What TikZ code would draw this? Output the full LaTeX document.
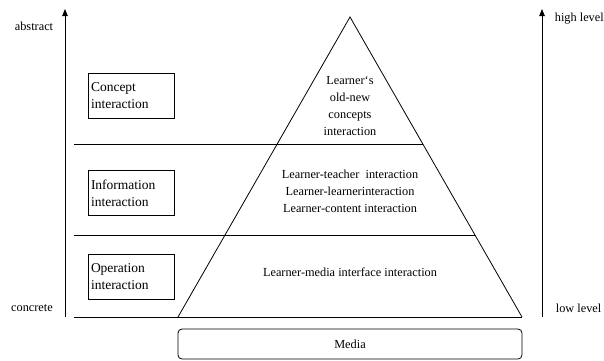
\documentclass[tikz,border=0pt]{standalone}
\usepackage{fontspec}
\setmainfont{Liberation Serif}
\usepackage{tikz}
\usetikzlibrary{arrows.meta}

\begin{document}
\begin{tikzpicture}[
  x=1pt, y=-1pt,
  font=\fontsize{12.3}{17}\selectfont,
  line width=0.8pt,
  lvl/.style={draw, minimum width=86pt, minimum height=45pt, text width=80pt,
              align=left, inner xsep=3pt, font=\fontsize{13.5}{17}\selectfont},
  txt/.style={align=center, inner sep=0pt},
  axis/.style={-{Triangle[length=7pt, width=5.5pt]}}
]
\useasboundingbox (0,0) rectangle (604,360);

% vertical scales
\coordinate (lbot) at (65,317);
\coordinate (ltop) at (65,9);
\coordinate (rbot) at (542,317);
\coordinate (rtop) at (542,9);
\draw[axis] (lbot) -- (ltop);
\draw[axis] (rbot) -- (rtop);
\node[txt] (abs)  at (34,26)  {abstract};
\node[txt] (conc) at (32,308) {concrete};
\node[txt, anchor=west] (high) at (554.5,19)  {high level};
\node[txt, anchor=west] (low)  at (555.5,308) {low level};

% pyramid
\coordinate (apex) at (350,17);
\coordinate (bl)   at (178,317);
\coordinate (br)   at (522,317);
\draw (bl) -- (apex) -- (br);
\coordinate (h1l) at (74,144);
\coordinate (h2l) at (74,235);
\coordinate (h3l) at (74,317);
\draw (h1l) -- (h1l -| 423,0);
\draw (h2l) -- (h2l -| 475,0);
\draw (h3l) -- (br);

% levels
\node[lvl] (concept) at (131,95.5)  {Concept\\interaction};
\node[lvl] (info)    at (131,193)   {Information\\interaction};
\node[lvl] (oper)    at (131,276.5) {Operation\\interaction};

\node[txt] (top) at (350,105.5) {Learner`s\\old-new\\concepts\\interaction};
\node[txt] (mid) at (350,191)   {Learner-teacher\ \ interaction\\Learner-learnerinteraction\\Learner-content interaction};
\node[txt] (bot) at (350,272)   {Learner-media interface interaction};

% base
\node[draw, rounded corners=4pt, minimum width=344pt, minimum height=30pt]
  (media) at (350,344) {Media};
\end{tikzpicture}
\end{document}
